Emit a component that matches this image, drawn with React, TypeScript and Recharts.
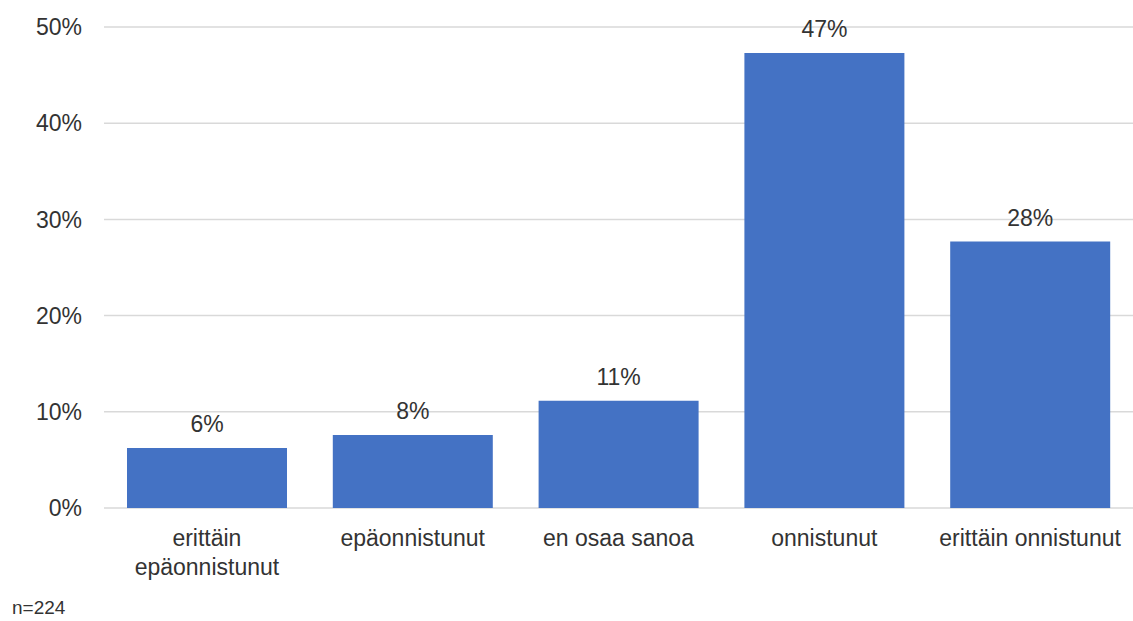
import { BarChart, Bar, XAxis, YAxis, CartesianGrid, LabelList } from 'recharts';

const categories = [
  'erittäin epäonnistunut',
  'epäonnistunut',
  'en osaa sanoa',
  'onnistunut',
  'erittäin onnistunut',
];
const shares = [6.25, 7.6, 11.15, 47.3, 27.7];
const yTicks = [0, 10, 20, 30, 40, 50];
const sampleNote = 'n=224';

const FONT = '"Liberation Sans", Arial, sans-serif';
const TEXT = '#333333';

const data = categories.map((name, i) => ({ name, value: shares[i] }));

// long labels don't fit in the band, so break them one word per line
function CategoryTick(props: any) {
  const { x, y, payload } = props;
  const label: string = payload.value;
  const lines = label.length > 20 ? label.split(' ') : [label];
  return (
    <text x={x} y={y + 38} textAnchor="middle" fontSize={23} fontFamily={FONT} fill={TEXT}>
      {lines.map((line, i) => (
        <tspan key={i} x={x} dy={i === 0 ? 0 : 29}>
          {line}
        </tspan>
      ))}
    </text>
  );
}

export default function App() {
  return (
    <div style={{ position: 'absolute', left: 0, top: 0, width: 1133, height: 621, background: '#fff' }}>
      <BarChart
        width={1133}
        height={621}
        data={data}
        margin={{ top: 27, right: 0, bottom: 0, left: 0 }}
        barCategoryGap={23}
      >
        <CartesianGrid vertical={false} stroke="#d9d9d9" strokeWidth={1.5} />
        <XAxis
          dataKey="name"
          axisLine={false}
          tickLine={false}
          tickSize={0}
          tickMargin={0}
          height={113}
          interval={0}
          tick={<CategoryTick />}
        />
        <YAxis
          domain={[0, 50]}
          ticks={yTicks}
          width={104}
          axisLine={false}
          tickLine={false}
          tickSize={0}
          tickMargin={22}
          tickFormatter={(v) => `${v}%`}
          tick={{ fontSize: 23, fontFamily: FONT, fill: TEXT }}
        />
        <Bar dataKey="value" fill="#4472c4" isAnimationActive={false}>
          <LabelList
            dataKey="value"
            position="top"
            offset={16}
            formatter={(v: any) => `${Math.round(v)}%`}
            style={{ fontSize: 23, fontFamily: FONT, fill: TEXT }}
          />
        </Bar>
      </BarChart>
      <div
        style={{
          position: 'absolute',
          left: 12,
          top: 597,
          fontSize: 19,
          fontFamily: FONT,
          color: TEXT,
          lineHeight: '22px',
        }}
      >
        {sampleNote}
      </div>
    </div>
  );
}
